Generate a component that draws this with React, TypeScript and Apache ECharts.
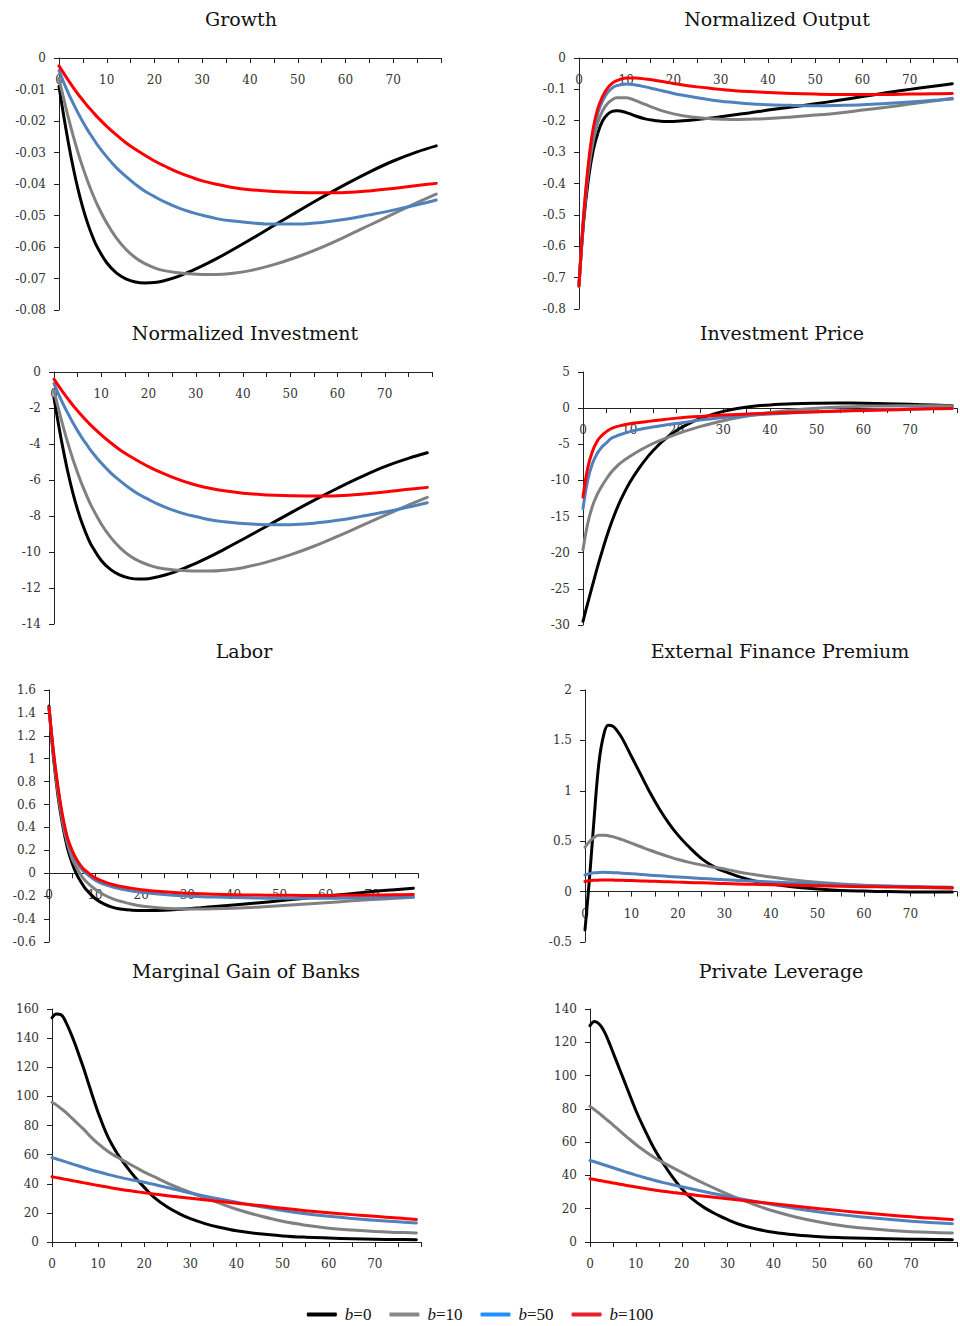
import React, { useEffect, useRef } from "react";
import * as echarts from "echarts";

// ---------- data ----------
const PERIODS = [0, 1, 2, 3, 4, 5, 6, 7, 8, 10, 12, 14, 16, 18, 20, 22, 25, 28, 30, 33, 36, 40, 45, 50, 55, 60, 65, 70, 75, 79];
const SERIES_NAMES = ["b=0", "b=10", "b=50", "b=100"];
const X_TICK_LABELS = ["0", "10", "20", "30", "40", "50", "60", "70"];
const TITLES = [
  "Growth", "Normalized Output", "Normalized Investment", "Investment Price",
  "Labor", "External Finance Premium", "Marginal Gain of Banks", "Private Leverage",
];

const growthB0 = [-0.009, -0.0185, -0.0272, -0.035, -0.0418, -0.0476, -0.0525, -0.0566, -0.06, -0.065, -0.0682, -0.0701, -0.0711, -0.0714, -0.0713, -0.0707, -0.0693, -0.0674, -0.066, -0.0637, -0.0612, -0.0577, -0.0532, -0.0487, -0.0443, -0.0401, -0.0362, -0.0327, -0.0298, -0.0279];
const growthB10 = [-0.0065, -0.013, -0.0192, -0.0249, -0.0301, -0.0348, -0.0391, -0.043, -0.0465, -0.0524, -0.0571, -0.0607, -0.0634, -0.0653, -0.0666, -0.0675, -0.0682, -0.0686, -0.0687, -0.0687, -0.0684, -0.0675, -0.0656, -0.0631, -0.0601, -0.0567, -0.0531, -0.0495, -0.0459, -0.0432];
const growthB50 = [-0.004, -0.0078, -0.0113, -0.0145, -0.0175, -0.0203, -0.0229, -0.0252, -0.0275, -0.0314, -0.0348, -0.0376, -0.0401, -0.0423, -0.044, -0.0456, -0.0476, -0.0491, -0.0499, -0.051, -0.0517, -0.0523, -0.0527, -0.0527, -0.0522, -0.0512, -0.0498, -0.0483, -0.0466, -0.0451];
const growthB100 = [-0.0025, -0.0049, -0.0072, -0.0094, -0.0115, -0.0134, -0.0153, -0.017, -0.0187, -0.0217, -0.0244, -0.0269, -0.029, -0.0309, -0.0327, -0.0342, -0.0363, -0.038, -0.039, -0.0401, -0.041, -0.0418, -0.0424, -0.0427, -0.0428, -0.0427, -0.0422, -0.0414, -0.0405, -0.0398];

const outputB0 = [-0.72, -0.52, -0.385, -0.295, -0.238, -0.2, -0.18, -0.17, -0.168, -0.174, -0.185, -0.194, -0.199, -0.202, -0.202, -0.2, -0.196, -0.191, -0.187, -0.181, -0.175, -0.166, -0.156, -0.146, -0.135, -0.123, -0.111, -0.1, -0.09, -0.082];
const outputB10 = [-0.727, -0.51, -0.36, -0.265, -0.205, -0.168, -0.146, -0.133, -0.127, -0.127, -0.136, -0.148, -0.16, -0.17, -0.178, -0.184, -0.19, -0.194, -0.195, -0.196, -0.195, -0.193, -0.188, -0.182, -0.175, -0.166, -0.157, -0.147, -0.137, -0.128];
const outputB50 = [-0.727, -0.5, -0.345, -0.24, -0.175, -0.136, -0.111, -0.096, -0.088, -0.083, -0.086, -0.092, -0.099, -0.106, -0.113, -0.119, -0.127, -0.134, -0.138, -0.142, -0.146, -0.149, -0.151, -0.152, -0.151, -0.149, -0.145, -0.14, -0.135, -0.131];
const outputB100 = [-0.727, -0.5, -0.335, -0.225, -0.16, -0.122, -0.097, -0.081, -0.072, -0.064, -0.064, -0.067, -0.071, -0.076, -0.081, -0.086, -0.092, -0.097, -0.1, -0.104, -0.107, -0.11, -0.113, -0.115, -0.116, -0.116, -0.116, -0.115, -0.114, -0.113];

const investB0 = [-1.45, -2.98, -4.38, -5.64, -6.73, -7.66, -8.45, -9.11, -9.66, -10.47, -10.98, -11.29, -11.45, -11.5, -11.48, -11.38, -11.16, -10.85, -10.63, -10.26, -9.85, -9.29, -8.57, -7.84, -7.13, -6.46, -5.83, -5.26, -4.8, -4.49];
const investB10 = [-1.05, -2.09, -3.09, -4.01, -4.85, -5.6, -6.3, -6.92, -7.49, -8.44, -9.19, -9.77, -10.21, -10.51, -10.72, -10.87, -10.98, -11.04, -11.06, -11.06, -11.01, -10.87, -10.56, -10.16, -9.68, -9.13, -8.55, -7.97, -7.39, -6.96];
const investB50 = [-0.64, -1.26, -1.82, -2.33, -2.82, -3.27, -3.69, -4.06, -4.43, -5.06, -5.6, -6.05, -6.46, -6.81, -7.08, -7.34, -7.66, -7.91, -8.03, -8.21, -8.32, -8.42, -8.48, -8.48, -8.4, -8.24, -8.02, -7.78, -7.5, -7.26];
const investB100 = [-0.4, -0.79, -1.16, -1.51, -1.85, -2.16, -2.46, -2.74, -3.01, -3.49, -3.93, -4.33, -4.67, -4.97, -5.26, -5.51, -5.84, -6.12, -6.28, -6.46, -6.6, -6.73, -6.83, -6.87, -6.89, -6.87, -6.79, -6.67, -6.52, -6.41];

const priceB0 = [-29.5, -27.0, -24.6, -22.2, -20.0, -17.9, -16.0, -14.3, -12.8, -10.3, -8.3, -6.6, -5.2, -4.05, -3.1, -2.35, -1.45, -0.8, -0.45, -0.05, 0.22, 0.45, 0.6, 0.67, 0.7, 0.68, 0.62, 0.53, 0.42, 0.33];
const priceB10 = [-19.6, -16.0, -13.6, -12.0, -10.8, -9.8, -8.9, -8.2, -7.6, -6.7, -5.9, -5.2, -4.6, -4.1, -3.6, -3.15, -2.55, -2.05, -1.75, -1.35, -1.0, -0.6, -0.25, 0.0, 0.15, 0.25, 0.3, 0.32, 0.32, 0.3];
const priceB50 = [-13.9, -10.0, -7.7, -6.3, -5.4, -4.8, -4.2, -3.9, -3.65, -3.25, -2.95, -2.7, -2.5, -2.3, -2.12, -1.96, -1.65, -1.42, -1.28, -1.12, -0.98, -0.82, -0.65, -0.5, -0.38, -0.28, -0.2, -0.12, -0.06, -0.02];
const priceB100 = [-12.3, -8.3, -6.0, -4.6, -3.8, -3.25, -2.85, -2.6, -2.42, -2.15, -1.98, -1.83, -1.68, -1.52, -1.38, -1.27, -1.14, -1.03, -0.96, -0.87, -0.79, -0.7, -0.6, -0.5, -0.41, -0.33, -0.25, -0.17, -0.1, -0.05];

const laborB0 = [1.46, 1.0, 0.66, 0.41, 0.22, 0.09, -0.01, -0.08, -0.14, -0.22, -0.27, -0.3, -0.315, -0.322, -0.325, -0.325, -0.322, -0.315, -0.31, -0.3, -0.29, -0.277, -0.26, -0.24, -0.22, -0.2, -0.18, -0.16, -0.143, -0.13];
const laborB10 = [1.45, 1.02, 0.69, 0.44, 0.26, 0.13, 0.05, -0.02, -0.07, -0.14, -0.19, -0.225, -0.25, -0.27, -0.285, -0.295, -0.305, -0.31, -0.312, -0.312, -0.31, -0.305, -0.296, -0.284, -0.271, -0.257, -0.243, -0.23, -0.218, -0.21];
const laborB50 = [1.45, 1.04, 0.72, 0.47, 0.29, 0.18, 0.1, 0.04, 0.0, -0.06, -0.097, -0.122, -0.14, -0.155, -0.166, -0.175, -0.186, -0.194, -0.198, -0.204, -0.208, -0.212, -0.216, -0.218, -0.219, -0.218, -0.216, -0.213, -0.21, -0.207];
const laborB100 = [1.45, 1.05, 0.74, 0.49, 0.31, 0.2, 0.12, 0.06, 0.02, -0.04, -0.075, -0.1, -0.118, -0.132, -0.143, -0.152, -0.162, -0.17, -0.174, -0.179, -0.183, -0.187, -0.19, -0.192, -0.193, -0.193, -0.192, -0.19, -0.188, -0.186];

const efpB0 = [-0.38, 0.15, 0.75, 1.28, 1.55, 1.65, 1.64, 1.59, 1.52, 1.34, 1.16, 0.98, 0.82, 0.68, 0.56, 0.46, 0.33, 0.24, 0.2, 0.15, 0.11, 0.075, 0.045, 0.025, 0.012, 0.005, 0.0, -0.003, -0.005, -0.005];
const efpB10 = [0.44, 0.5, 0.54, 0.56, 0.56, 0.555, 0.545, 0.53, 0.515, 0.48, 0.445, 0.41, 0.378, 0.347, 0.318, 0.295, 0.265, 0.24, 0.225, 0.195, 0.172, 0.145, 0.115, 0.092, 0.075, 0.062, 0.053, 0.045, 0.038, 0.033];
const efpB50 = [0.165, 0.178, 0.186, 0.19, 0.191, 0.19, 0.188, 0.186, 0.183, 0.177, 0.17, 0.163, 0.157, 0.151, 0.145, 0.139, 0.131, 0.123, 0.118, 0.111, 0.104, 0.095, 0.085, 0.076, 0.068, 0.061, 0.055, 0.05, 0.046, 0.043];
const efpB100 = [0.1, 0.108, 0.112, 0.114, 0.115, 0.115, 0.114, 0.113, 0.112, 0.109, 0.106, 0.103, 0.1, 0.097, 0.094, 0.091, 0.087, 0.083, 0.08, 0.076, 0.072, 0.067, 0.062, 0.057, 0.053, 0.049, 0.046, 0.043, 0.041, 0.039];

const gainB0 = [154, 156.5, 156, 151, 144, 136, 127, 118, 108, 89, 73, 61.5, 52.5, 44.5, 37.5, 31, 24, 18.8, 16, 12.8, 10.3, 7.7, 5.6, 4.2, 3.3, 2.7, 2.2, 1.9, 1.7, 1.6];
const gainB10 = [96, 94, 91.5, 89, 86, 83, 80, 77, 73.5, 67.5, 62.5, 58.5, 55, 51.5, 48, 45, 40.5, 36.5, 34, 30.5, 27, 22.5, 18, 14.2, 11.5, 9.5, 8.2, 7.2, 6.6, 6.2];
const gainB50 = [57.8, 57, 56, 55, 54, 53, 52, 51, 50, 48.2, 46.5, 44.9, 43.5, 42.2, 41, 39.6, 37.4, 35.2, 33.6, 31.6, 29.7, 27.3, 24.3, 21.6, 19.4, 17.7, 16.2, 14.9, 13.9, 13.1];
const gainB100 = [44.8, 44.2, 43.6, 43, 42.4, 41.8, 41.2, 40.6, 40, 38.8, 37.7, 36.6, 35.6, 34.7, 33.8, 33, 31.8, 30.7, 30, 29, 28, 26.6, 25, 23.1, 21.5, 20.1, 18.8, 17.6, 16.5, 15.4];

const levB0 = [130, 132.5, 131, 127, 121, 114, 107, 100, 93, 79, 67, 56, 47, 39, 32, 26.5, 20.5, 16, 13.5, 10.2, 8, 5.8, 4.2, 3.2, 2.6, 2.2, 1.9, 1.7, 1.5, 1.4];
const levB10 = [81.5, 79.5, 77.3, 75, 72.7, 70.4, 68, 65.6, 63.2, 58.6, 54.5, 50.8, 47.7, 44.7, 41.8, 39, 35, 31.2, 28.8, 25.4, 22.3, 18.6, 14.9, 12, 9.8, 8.2, 7, 6.2, 5.7, 5.4];
const levB50 = [49, 48.2, 47.3, 46.4, 45.5, 44.6, 43.7, 42.8, 41.9, 40.2, 38.6, 37.1, 35.7, 34.4, 33.2, 32, 30.2, 28.5, 27.4, 25.8, 24.3, 22.4, 20, 18, 16.3, 14.9, 13.6, 12.5, 11.6, 11];
const levB100 = [38, 37.5, 37, 36.5, 36, 35.5, 35, 34.5, 34, 33, 32.1, 31.3, 30.5, 29.8, 29.1, 28.5, 27.5, 26.6, 26, 25.1, 24.2, 23, 21.5, 20, 18.7, 17.4, 16.2, 15.1, 14.2, 13.5];

// y-axis ranges [min, max, interval]
const Y_RANGES: [number, number, number][] = [
  [-0.08, 0, 0.01], [-0.8, 0, 0.1], [-14, 0, 2], [-30, 5, 5],
  [-0.6, 1.6, 0.2], [-0.5, 2, 0.5], [0, 160, 20], [0, 140, 20],
];

const PANEL_VALUES = [
  [growthB0, growthB10, growthB50, growthB100],
  [outputB0, outputB10, outputB50, outputB100],
  [investB0, investB10, investB50, investB100],
  [priceB0, priceB10, priceB50, priceB100],
  [laborB0, laborB10, laborB50, laborB100],
  [efpB0, efpB10, efpB50, efpB100],
  [gainB0, gainB10, gainB50, gainB100],
  [levB0, levB10, levB50, levB100],
];

// ---------- layout & style ----------
const GRIDS = [
  { left: 59, top: 58, width: 382, height: 252 },
  { left: 579, top: 58, width: 382, height: 251 },
  { left: 54, top: 372, width: 378, height: 252 },
  { left: 583, top: 372, width: 384, height: 253 },
  { left: 49, top: 690, width: 369, height: 252 },
  { left: 585, top: 690, width: 384, height: 252 },
  { left: 52, top: 1009, width: 369, height: 233 },
  { left: 590, top: 1009, width: 379, height: 233 },
];
const TITLE_POS = [
  [241, 19], [777, 19], [245, 333], [782, 333],
  [244, 651], [780, 651], [246, 971], [781, 971],
];
const LINE_COLORS = ["#000000", "#808080", "#4F81BD", "#FF0000"];
const LEGEND_COLORS = ["#000000", "#888888", "#1E90FF", "#E8202A"];
const AXIS_COLOR = "#222";
const LABEL_FONT = "DejaVu Serif";

function buildOption() {
  const grid = GRIDS.map((g) => ({ ...g, containLabel: false }));
  const xAxis = GRIDS.map((g, i) => {
    const [min, max] = Y_RANGES[i];
    // place the horizontal axis where y = 0 (offset counted from the grid bottom)
    const zeroOffset = -g.height * ((0 - min) / (max - min));
    return {
      type: "value",
      gridIndex: i,
      position: "bottom",
      offset: zeroOffset,
      min: 0,
      max: 80,
      interval: 5,
      axisLine: { show: true, onZero: false, lineStyle: { color: AXIS_COLOR, width: 1 } },
      axisTick: { show: true, length: 5, lineStyle: { color: AXIS_COLOR, width: 1 } },
      axisLabel: {
        margin: 16,
        fontFamily: LABEL_FONT,
        fontSize: 12,
        color: "#333",
        formatter: (v: number) => (X_TICK_LABELS.includes(String(v)) ? String(v) : ""),
      },
      splitLine: { show: false },
    };
  });
  const yAxis = Y_RANGES.map(([min, max, interval], i) => ({
    type: "value",
    gridIndex: i,
    min,
    max,
    interval,
    axisLine: { show: true, onZero: false, lineStyle: { color: AXIS_COLOR, width: 1 } },
    axisTick: { show: true, length: 5, lineStyle: { color: AXIS_COLOR, width: 1 } },
    axisLabel: { margin: 13, fontFamily: LABEL_FONT, fontSize: 12, color: "#333" },
    splitLine: { show: false },
  }));
  const series: any[] = [];
  PANEL_VALUES.forEach((panel, i) => {
    panel.forEach((vals, s) => {
      series.push({
        type: "line",
        name: SERIES_NAMES[s],
        xAxisIndex: i,
        yAxisIndex: i,
        data: PERIODS.map((t, k) => [t, vals[k]]),
        showSymbol: false,
        symbol: "none",
        smooth: 0.4,
        silent: true,
        z: 2 + s,
        lineStyle: { color: LINE_COLORS[s], width: 3, cap: "round", join: "round" },
        itemStyle: { color: LINE_COLORS[s] },
        emphasis: { disabled: true },
      });
    });
  });
  const graphic = TITLES.map((text, i) => ({
    type: "text",
    x: TITLE_POS[i][0],
    y: TITLE_POS[i][1],
    silent: true,
    style: {
      text,
      fill: "#111",
      font: `19px "${LABEL_FONT}"`,
      align: "center",
      verticalAlign: "middle",
      textAlign: "center",
      textVerticalAlign: "middle",
    },
  }));
  return {
    animation: false,
    backgroundColor: "#ffffff",
    grid,
    xAxis,
    yAxis,
    series,
    graphic,
    legend: {
      left: "center",
      top: 1301,
      itemWidth: 30,
      itemHeight: 4,
      itemGap: 18,
      selectedMode: false,
      data: SERIES_NAMES.map((name, s) => ({
        name,
        icon: "roundRect",
        itemStyle: { color: LEGEND_COLORS[s], borderWidth: 0 },
      })),
      formatter: (name: string) => `{i|b}{n|${name.slice(1)}}`,
      textStyle: {
        fontFamily: "Liberation Serif",
        fontSize: 17,
        color: "#111",
        padding: [0, 0, 0, 3],
        rich: {
          i: { fontFamily: "Liberation Serif", fontSize: 17, fontStyle: "italic", color: "#111" },
          n: { fontFamily: "Liberation Serif", fontSize: 17, color: "#111" },
        },
      },
    },
  };
}

export default function App() {
  const ref = useRef<HTMLDivElement>(null);
  useEffect(() => {
    document.body.style.margin = "0";
    const chart = echarts.init(ref.current!, null, { renderer: "svg" });
    chart.setOption(buildOption() as any);
    return () => chart.dispose();
  }, []);
  return (
    <div
      ref={ref}
      style={{ width: 960, height: 1326, overflow: "hidden", background: "#fff" }}
    />
  );
}
